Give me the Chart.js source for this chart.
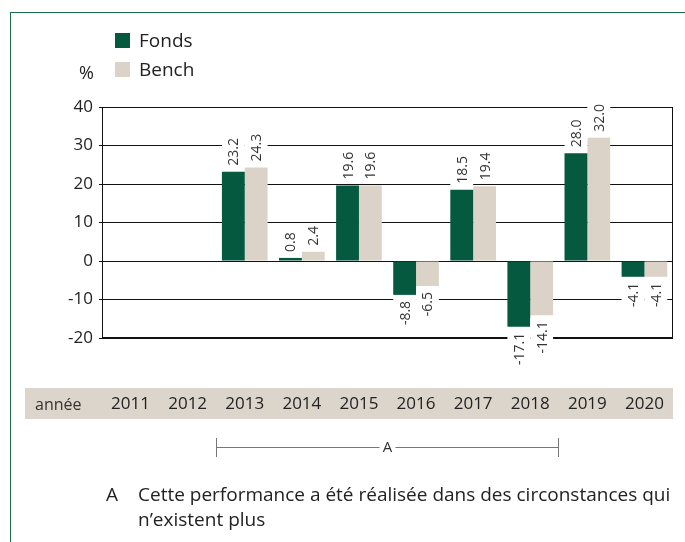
<!DOCTYPE html>
<html>
<head>
<meta charset="utf-8">
<script src="https://cdn.jsdelivr.net/npm/chart.js@4.4.1/dist/chart.umd.min.js"></script>
<style>
  body { margin: 0; background: #fff; font-family: "Open Sans", sans-serif; color: #222; }
  #wrap { position: relative; width: 685px; height: 542px; overflow: hidden; }
  #frame { position: absolute; left: 10px; top: 12px; width: 700px; height: 560px;
           border-left: 1px solid #1b6b47; border-top: 1px solid #1b6b47; }
  #chart { position: absolute; left: 0; top: 0; }
  .leg { position: absolute; left: 115px; font-size: 19px; line-height: 20px; }
  .leg span { display: inline-block; width: 15px; height: 15px; margin-right: 9px; vertical-align: -1px; }
  #pct { position: absolute; left: 79px; top: 60px; font-size: 18px; }
  #annee { position: absolute; left: 35px; top: 393px; font-size: 16px; color: #333; }
  #note { position: absolute; left: 106px; top: 482px; font-size: 19px; line-height: 25px; color: #222; }
  #note .k { position: absolute; left: 0; top: 0; }
  #note .t { margin-left: 32px; width: 600px; }
</style>
</head>
<body>
<div id="wrap">
  <div id="frame"></div>
  <canvas id="chart" width="685" height="542"></canvas>
  <div class="leg" style="top:30px"><span style="background:#04593f"></span>Fonds</div>
  <div class="leg" style="top:59px"><span style="background:#dbd3c7"></span>Bench</div>
  <div id="pct">%</div>
  <div id="annee">année</div>
  <div id="note"><div class="k">A</div><div class="t">Cette performance a été réalisée dans des circonstances qui<br>n’existent plus</div></div>
</div>
<script>
const years = ["2011", "2012", "2013", "2014", "2015", "2016", "2017", "2018", "2019", "2020"];
const fonds = [null, null, 23.2, 0.8, 19.6, -8.8, 18.5, -17.1, 28.0, -4.1];
const bench = [null, null, 24.3, 2.4, 19.6, -6.5, 19.4, -14.1, 32.0, -4.1];
const yTicks = [-20, -10, 0, 10, 20, 30, 40];
const bracketFrom = "2013";
const bracketTo = "2018";

// band behind the year labels + frame of the plot area
const backdrop = {
    id: "backdrop",
    beforeDraw(chart) {
        const ctx = chart.ctx;
        const a = chart.chartArea;
        ctx.save();
        ctx.fillStyle = "#dcd5cb";
        ctx.fillRect(25, 388, a.right - 25, 31);
        ctx.restore();
    },
    beforeDatasetsDraw(chart) {
        const ctx = chart.ctx;
        const a = chart.chartArea;
        ctx.save();
        ctx.strokeStyle = "#111";
        ctx.lineWidth = 1;
        ctx.strokeRect(Math.round(a.left) + 0.5, Math.round(a.top) + 0.5,
            Math.round(a.right - a.left) - 1, Math.round(a.bottom - a.top) - 1);
        ctx.restore();
    }
};

// rotated value labels with white box
const barLabels = {
    id: "barLabels",
    afterDatasetsDraw(chart) {
        const ctx = chart.ctx;
        ctx.save();
        ctx.font = '14px "Open Sans"';
        chart.data.datasets.forEach((ds, i) => {
            chart.getDatasetMeta(i).data.forEach((bar, j) => {
                const v = ds.data[j];
                if (v == null) return;
                const txt = v.toFixed(1);
                const w = ctx.measureText(txt).width;
                const up = v >= 0;
                const tip = up ? Math.min(bar.y, bar.base) : Math.max(bar.y, bar.base);
                const start = up ? tip - 6 : tip + 6;
                const x0 = up ? 0 : -w;
                ctx.save();
                ctx.translate(bar.x, start);
                ctx.rotate(-Math.PI / 2);
                ctx.fillStyle = "#fff";
                ctx.fillRect(x0 - 3, -bar.width / 2, w + 6, bar.width);
                ctx.fillStyle = "#333";
                ctx.textBaseline = "middle";
                ctx.textAlign = "left";
                ctx.fillText(txt, x0, 1);
                ctx.restore();
            });
        });
        ctx.restore();
    }
};

// bracket "A" under the years
const bracket = {
    id: "bracket",
    afterDraw(chart) {
        const ctx = chart.ctx;
        const xs = chart.scales.x;
        const i0 = years.indexOf(bracketFrom);
        const i1 = years.indexOf(bracketTo);
        const half = (xs.getPixelForValue(1) - xs.getPixelForValue(0)) / 2;
        const x0 = Math.round(xs.getPixelForValue(i0) - half) + 0.5;
        const x1 = Math.round(xs.getPixelForValue(i1) + half) - 0.5;
        const y = 447.5;
        const mid = (x0 + x1) / 2;
        ctx.save();
        ctx.strokeStyle = "#777";
        ctx.lineWidth = 1;
        ctx.beginPath();
        ctx.moveTo(x0, 438); ctx.lineTo(x0, 457);
        ctx.moveTo(x1, 438); ctx.lineTo(x1, 457);
        ctx.moveTo(x0, y); ctx.lineTo(mid - 8, y);
        ctx.moveTo(mid + 8, y); ctx.lineTo(x1, y);
        ctx.stroke();
        ctx.fillStyle = "#333";
        ctx.font = '15px "Open Sans"';
        ctx.textAlign = "center";
        ctx.textBaseline = "middle";
        ctx.fillText("A", mid, y);
        ctx.restore();
    }
};

new Chart(document.getElementById("chart"), {
    type: "bar",
    data: {
        labels: years,
        datasets: [
            { label: "Fonds", data: fonds, backgroundColor: "#04593f" },
            { label: "Bench", data: bench, backgroundColor: "#dbd3c7" }
        ]
    },
    options: {
        responsive: false,
        animation: false,
        devicePixelRatio: 1,
        layout: { padding: { left: 0, top: 107, right: 12, bottom: 124 } },
        datasets: { bar: { barPercentage: 1, categoryPercentage: 0.8 } },
        scales: {
            x: {
                afterFit: s => { s.height = 80; s.paddingLeft = 0; s.paddingRight = 0; },
                grid: { display: false, drawTicks: false },
                border: { display: false },
                ticks: { padding: 56, color: "#222", font: { family: "Open Sans", size: 17 } }
            },
            y: {
                min: -20,
                max: 40,
                afterFit: s => { s.width = 102; s.paddingTop = 0; s.paddingBottom = 0; },
                afterBuildTicks: s => { s.ticks = yTicks.map(v => ({ value: v })); },
                grid: { color: "#111", lineWidth: 1, tickLength: 3 },
                border: { color: "#111", width: 1 },
                ticks: { padding: 6, color: "#222", font: { family: "Open Sans", size: 17 } }
            }
        },
        plugins: {
            legend: { display: false },
            tooltip: { enabled: false }
        }
    },
    plugins: [backdrop, barLabels, bracket]
});
</script>
</body>
</html>
